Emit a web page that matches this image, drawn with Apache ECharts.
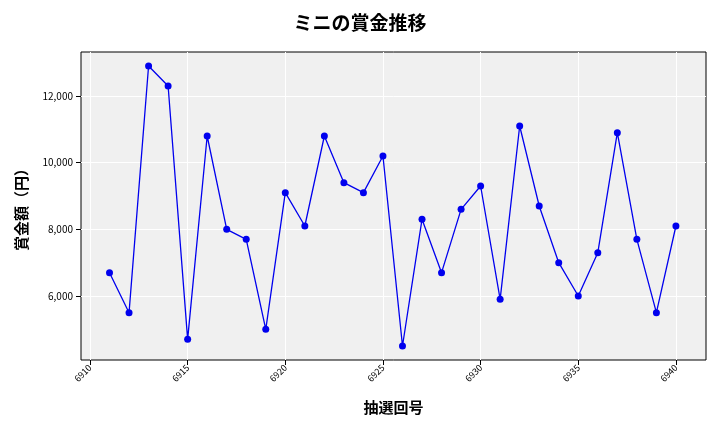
<!DOCTYPE html>
<html>
<head>
<meta charset="utf-8">
<script src="https://cdn.jsdelivr.net/npm/echarts@6/dist/echarts.min.js"></script>
<style>body{margin:0}#c{width:720px;height:432px}</style>
</head>
<body>
<div id="c"></div>
<script>
// 抽選回と賞金額
var rounds = [6911,6912,6913,6914,6915,6916,6917,6918,6919,6920,6921,6922,6923,6924,6925,6926,6927,6928,6929,6930,6931,6932,6933,6934,6935,6936,6937,6938,6939,6940];
var prizes = [6700,5500,12900,12300,4700,10800,8000,7700,5000,9100,8100,10800,9400,9100,10200,4500,8300,6700,8600,9300,5900,11100,8700,7000,6000,7300,10900,7700,5500,8100];
var xTicks = [6910,6915,6920,6925,6930,6935,6940];
var yTicks = [6000,8000,10000,12000];

var data = [];
for (var i = 0; i < rounds.length; i++) data.push([rounds[i], prizes[i]]);

var font = "'Noto Sans CJK JP', sans-serif";
var chart = echarts.init(document.getElementById('c'));
chart.setOption({
  backgroundColor: '#fff',
  title: {text: 'ミニの賞金推移', left: 'center', top: 8,
    textStyle: {fontFamily: font, fontSize: 19, fontWeight: 'bold', color: '#000'}},
  grid: {left: 81, right: 14, top: 52, bottom: 72, backgroundColor: '#f0f0f0', show: true, borderColor: '#000', borderWidth: 1},
  xAxis: {
    type: 'value', min: 6909.54, max: 6941.54,
    name: '抽選回号', nameLocation: 'middle', nameGap: 40,
    nameTextStyle: {fontFamily: font, fontSize: 15, color: '#000', fontWeight: 'bold'},
    axisLine: {show: false},
    axisTick: {show: true, customValues: xTicks, lineStyle: {color: '#000'}},
    axisLabel: {customValues: xTicks, rotate: 45, fontSize: 9, color: '#000', fontFamily: font, margin: 6,
      formatter: function (v) { return String(v); }},
    splitLine: {show: true, lineStyle: {color: '#fff', width: 1}}
  },
  yAxis: {
    type: 'value', min: 4080, max: 13320,
    name: '賞金額（円）', nameLocation: 'middle', nameGap: 52,
    nameTextStyle: {fontFamily: font, fontSize: 15, color: '#000', fontWeight: 'bold'},
    axisLine: {show: false},
    axisTick: {show: true, customValues: yTicks, lineStyle: {color: '#000'}},
    axisLabel: {customValues: yTicks, fontSize: 10, color: '#000', fontFamily: font,
      formatter: function (v) { return v.toLocaleString('en-US'); }},
    splitLine: {show: true, lineStyle: {color: '#fff', width: 1}}
  },
  series: [{
    type: 'line', data: data, symbol: 'circle', symbolSize: 7,
    lineStyle: {color: '#0000ee', width: 1.3},
    itemStyle: {color: '#0000ee'}
  }]
});
</script>
</body>
</html>
